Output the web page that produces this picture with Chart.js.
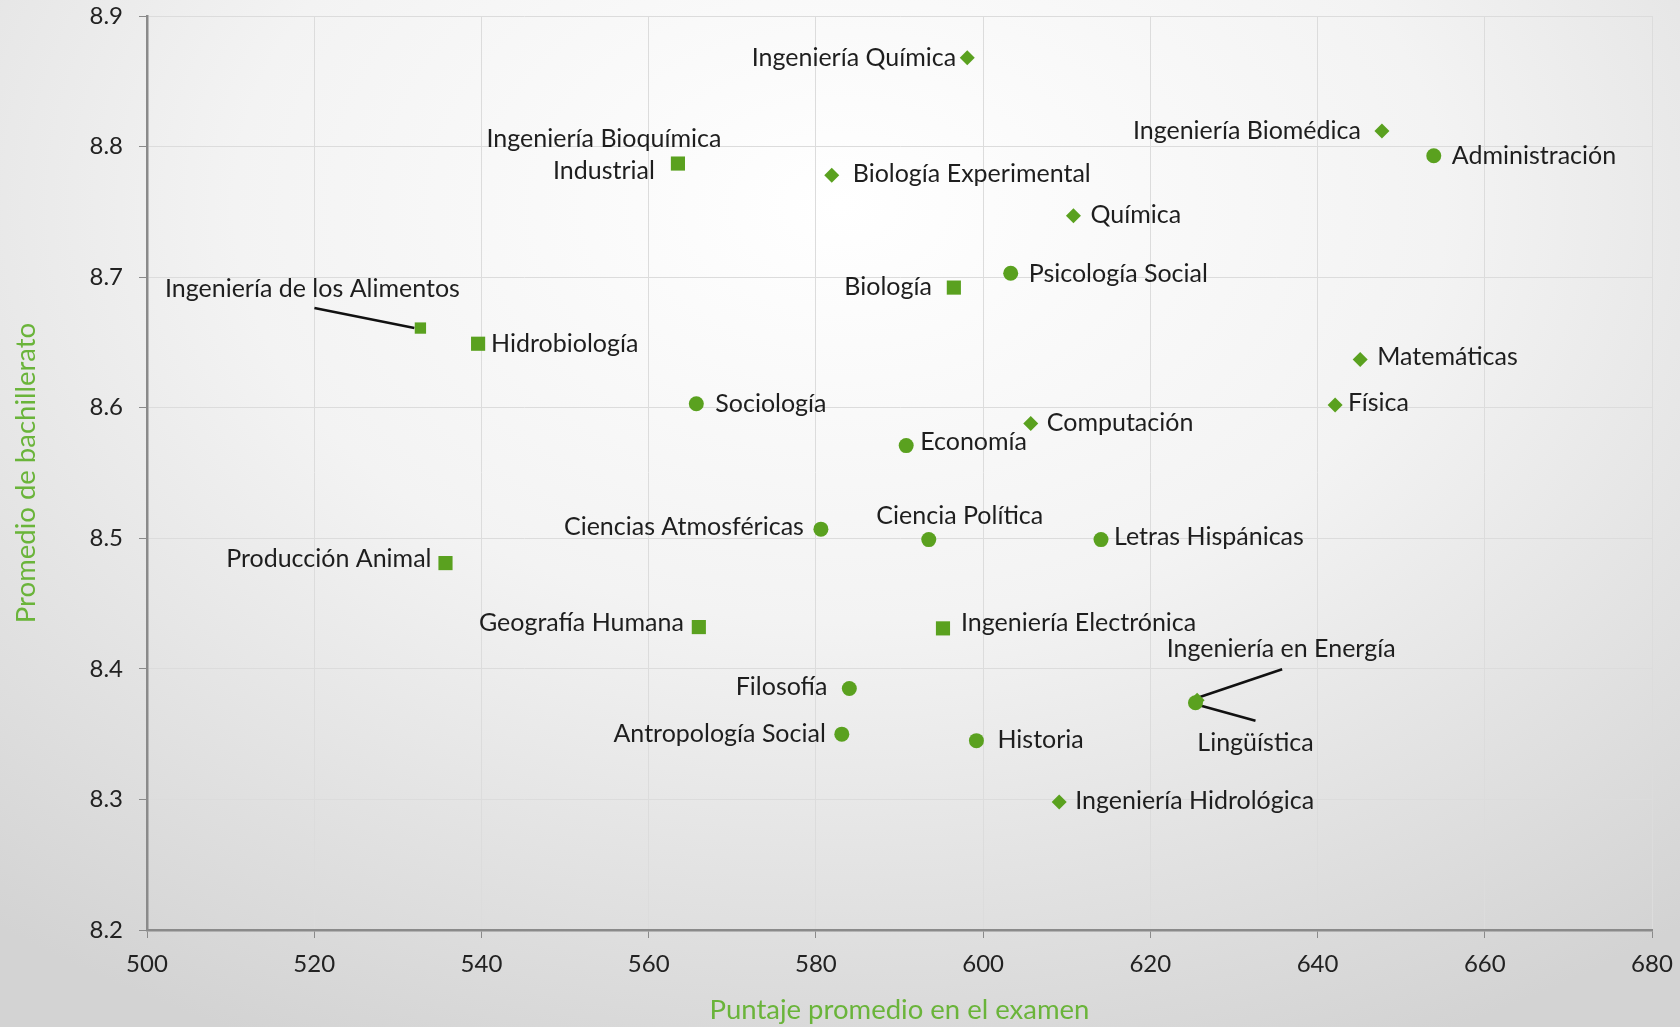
<!DOCTYPE html>
<html>
<head>
<meta charset="utf-8">
<script src="https://cdn.jsdelivr.net/npm/chart.js@4.4.0/dist/chart.umd.min.js"></script>
<style>
  html, body { margin: 0; padding: 0; }
  body {
    width: 1680px; height: 1027px; overflow: hidden;
    background: radial-gradient(ellipse 80% 90% at 50% 20%, #ffffff 0%, #f3f3f3 45%, #d3d3d3 100%);
  }
</style>
</head>
<body>
<canvas id="grafico" width="1680" height="1027"></canvas>
<script>
// Carreras marcadas con círculo
var nombresCirculo = ['Administración', 'Psicología Social', 'Sociología', 'Economía', 'Ciencias Atmosféricas',
  'Ciencia Política', 'Letras Hispánicas', 'Filosofía', 'Antropología Social', 'Historia', 'Lingüística'];
var puntajeCirculo = [653.9, 603.3, 565.7, 590.8, 580.6, 593.5, 614.1, 584.0, 583.1, 599.2, 625.4];
var promedioCirculo = [8.793, 8.703, 8.603, 8.571, 8.507, 8.499, 8.499, 8.385, 8.350, 8.345, 8.374];

// Carreras marcadas con rombo
var nombresRombo = ['Ingeniería Química', 'Ingeniería Biomédica', 'Biología Experimental', 'Química', 'Matemáticas',
  'Física', 'Computación', 'Ingeniería Hidrológica', 'Ingeniería en Energía'];
var puntajeRombo = [598.1, 647.7, 581.9, 610.8, 645.1, 642.1, 605.7, 609.1, 625.6];
var promedioRombo = [8.868, 8.812, 8.778, 8.747, 8.637, 8.602, 8.588, 8.298, 8.376];

// Carreras marcadas con cuadrado
var nombresCuadrado = ['Ingeniería Bioquímica Industrial', 'Biología', 'Ingeniería de los Alimentos', 'Hidrobiología',
  'Producción Animal', 'Geografía Humana', 'Ingeniería Electrónica'];
var puntajeCuadrado = [563.5, 596.5, 532.7, 539.6, 535.7, 566.0, 595.2];
var promedioCuadrado = [8.787, 8.692, 8.661, 8.649, 8.481, 8.432, 8.431];

var ticksX = [500, 520, 540, 560, 580, 600, 620, 640, 660, 680];
var ticksY = [8.2, 8.3, 8.4, 8.5, 8.6, 8.7, 8.8, 8.9];

var verde = '#5aa11f';

// Posición de cada etiqueta respecto a su punto (en píxeles)
var etiquetas = {
  'Ingeniería Química': { dx: -11, dy: 0, a: 'right' },
  'Ingeniería Biomédica': { dx: -21, dy: 0, a: 'right' },
  'Administración': { dx: 18, dy: 0, a: 'left' },
  'Ingeniería Bioquímica Industrial': { dx: -74, dy: -25, a: 'center', texto: ['Ingeniería Bioquímica', 'Industrial'] },
  'Biología Experimental': { dx: 21, dy: -1, a: 'left' },
  'Química': { dx: 17, dy: -1, a: 'left' },
  'Psicología Social': { dx: 18, dy: 1, a: 'left' },
  'Biología': { dx: -22, dy: -1, a: 'right' },
  'Ingeniería de los Alimentos': { dx: -108, dy: -39, a: 'center', linea: [-106, -20, -6, 0] },
  'Hidrobiología': { dx: 13, dy: 0, a: 'left' },
  'Matemáticas': { dx: 17, dy: -2, a: 'left' },
  'Sociología': { dx: 19, dy: 0, a: 'left' },
  'Física': { dx: 13, dy: -2, a: 'left' },
  'Computación': { dx: 16, dy: 0, a: 'left' },
  'Economía': { dx: 14, dy: -4, a: 'left' },
  'Ciencias Atmosféricas': { dx: -17, dy: -2, a: 'right' },
  'Ciencia Política': { dx: 31, dy: -24, a: 'center' },
  'Letras Hispánicas': { dx: 13, dy: -3, a: 'left' },
  'Producción Animal': { dx: -14, dy: -4, a: 'right' },
  'Geografía Humana': { dx: -15, dy: -4, a: 'right' },
  'Ingeniería Electrónica': { dx: 18, dy: -5, a: 'left' },
  'Filosofía': { dx: -22, dy: -2, a: 'right' },
  'Antropología Social': { dx: -16, dy: 0, a: 'right' },
  'Historia': { dx: 21, dy: -1, a: 'left' },
  'Ingeniería Hidrológica': { dx: 16, dy: -1, a: 'left' },
  'Ingeniería en Energía': { dx: 84, dy: -51, a: 'center', linea: [85, -31, 2, -3] },
  'Lingüística': { dx: 60, dy: 40, a: 'center', linea: [60, 18, 2, 2] }
};

function armarPuntos(nombres, xs, ys) {
  var puntos = [];
  for (var i = 0; i < nombres.length; i++) {
    puntos.push({ x: xs[i], y: ys[i], nombre: nombres[i] });
  }
  return puntos;
}

// Plugin que escribe el nombre de cada carrera junto a su punto
var pluginEtiquetas = {
  id: 'etiquetas',
  beforeDatasetsDraw: function (chart) {
    var ctx = chart.ctx;
    ctx.save();
    ctx.strokeStyle = '#111';
    ctx.lineWidth = 2.5;
    chart.data.datasets.forEach(function (ds, d) {
      chart.getDatasetMeta(d).data.forEach(function (el, i) {
        var e = etiquetas[ds.data[i].nombre];
        if (e && e.linea) {
          ctx.beginPath();
          ctx.moveTo(el.x + e.linea[0], el.y + e.linea[1]);
          ctx.lineTo(el.x + e.linea[2], el.y + e.linea[3]);
          ctx.stroke();
        }
      });
    });
    ctx.restore();
  },
  afterDatasetsDraw: function (chart) {
    var ctx = chart.ctx;
    ctx.save();
    ctx.font = '25px Lato';
    ctx.fillStyle = '#1e1e1e';
    ctx.textBaseline = 'middle';
    chart.data.datasets.forEach(function (ds, d) {
      chart.getDatasetMeta(d).data.forEach(function (el, i) {
        var nombre = ds.data[i].nombre;
        var e = etiquetas[nombre];
        if (!e) return;
        var lineas = e.texto || [nombre];
        ctx.textAlign = e.a;
        lineas.forEach(function (t, k) {
          ctx.fillText(t, el.x + e.dx, el.y + e.dy + k * 32);
        });
      });
    });
    ctx.restore();
  }
};

var ctx = document.getElementById('grafico').getContext('2d');
var grafico = new Chart(ctx, {
  type: 'scatter',
  data: {
    datasets: [
      {
        label: 'Círculo',
        data: armarPuntos(nombresCirculo, puntajeCirculo, promedioCirculo),
        pointStyle: 'circle',
        pointRadius: 7.5,
        backgroundColor: verde,
        borderColor: verde,
        borderWidth: 0
      },
      {
        label: 'Rombo',
        data: armarPuntos(nombresRombo, puntajeRombo, promedioRombo),
        pointStyle: 'rectRot',
        pointRadius: 7.5,
        backgroundColor: verde,
        borderColor: verde,
        borderWidth: 0
      },
      {
        label: 'Cuadrado',
        data: armarPuntos(nombresCuadrado, puntajeCuadrado, promedioCuadrado),
        pointStyle: 'rect',
        pointRadius: function (c) {
          return c.raw && c.raw.nombre === 'Ingeniería de los Alimentos' ? 8 : 10;
        },
        backgroundColor: verde,
        borderColor: verde,
        borderWidth: 0
      }
    ]
  },
  options: {
    responsive: false,
    animation: false,
    layout: { padding: { top: 16, right: 28, left: 0, bottom: 0 } },
    plugins: {
      legend: { display: false },
      tooltip: { enabled: false }
    },
    scales: {
      x: {
        type: 'linear',
        min: ticksX[0],
        max: ticksX[ticksX.length - 1],
        afterBuildTicks: function (s) { s.ticks = ticksX.map(function (v) { return { value: v }; }); },
        afterFit: function (s) {
          s.height = 97;
          s.paddingLeft = 0;
          s.paddingRight = 0;
        },
        ticks: { color: '#222', font: { family: 'Lato', size: 24 }, padding: 12 },
        grid: { color: '#dcdcdc', tickColor: '#8a8a8a', tickLength: 8, lineWidth: 1 },
        border: { color: '#8a8a8a', width: 2.5 },
        title: {
          display: true,
          text: 'Puntaje promedio en el examen',
          color: '#6ab43a',
          font: { family: 'Lato', size: 27.5 },
          padding: { top: 0, bottom: 0 }
        }
      },
      y: {
        min: ticksY[0],
        max: ticksY[ticksY.length - 1],
        afterBuildTicks: function (s) { s.ticks = ticksY.map(function (v) { return { value: v }; }); },
        afterFit: function (s) {
          s.width = 147;
          s.paddingTop = 0;
          s.paddingBottom = 0;
        },
        ticks: {
          color: '#222',
          font: { family: 'Lato', size: 24 },
          padding: 16,
          callback: function (v) { return v.toFixed(1); }
        },
        grid: { color: '#dcdcdc', tickColor: '#8a8a8a', tickLength: 8, lineWidth: 1 },
        border: { color: '#8a8a8a', width: 2.5 },
        title: {
          display: true,
          text: 'Promedio de bachillerato',
          color: '#6ab43a',
          font: { family: 'Lato', size: 27.5 },
          padding: { top: 10, bottom: 0 }
        }
      }
    }
  },
  plugins: [pluginEtiquetas]
});
</script>
</body>
</html>
